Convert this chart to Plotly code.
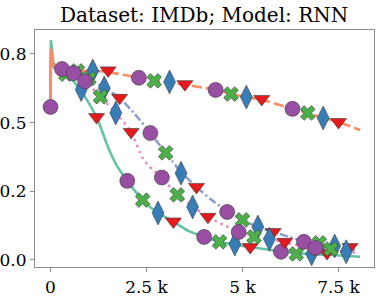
import plotly.graph_objects as go

# ---- data -------------------------------------------------------------
x_ticks = [0, 2500, 5000, 7500]
x_ticklabels = ["0", "2.5 k", "5 k", "7.5 k"]
y_ticks = [0, 0.25, 0.5, 0.75]
y_ticklabels = ["0.0", "0.2", "0.5", "0.8"]

# solid teal line
teal_x = [0, 10, 80, 400, 800, 1200, 1500, 1700, 2000, 2400, 2800, 3200, 3600, 4000, 4400, 4800, 5200, 6000, 6400, 6800, 7200, 8060]
teal_y = [0.557, 0.80, 0.715, 0.68, 0.615, 0.52, 0.41, 0.35, 0.288, 0.218, 0.171, 0.14, 0.105, 0.084, 0.066, 0.056, 0.047, 0.031, 0.025, 0.021, 0.019, 0.012]
# dashed orange line
orange_x = [0, 10, 80, 300, 700, 1100, 1500, 2300, 2700, 3100, 3500, 4300, 4700, 5100, 5500, 6300, 6700, 7100, 7500, 8060]
orange_y = [0.557, 0.77, 0.705, 0.695, 0.69, 0.688, 0.684, 0.663, 0.652, 0.646, 0.638, 0.619, 0.605, 0.593, 0.583, 0.55, 0.535, 0.517, 0.502, 0.473]
# dash-dot blue line
blue_x = [0, 10, 80, 600, 1000, 1400, 1800, 2200, 2600, 3000, 3400, 3800, 4200, 4600, 5000, 5400, 5800, 6200, 6600, 7000, 7400, 7800, 8000]
blue_y = [0.557, 0.75, 0.70, 0.68, 0.66, 0.626, 0.59, 0.53, 0.462, 0.39, 0.32, 0.266, 0.218, 0.178, 0.146, 0.12, 0.102, 0.085, 0.068, 0.058, 0.049, 0.04, 0.035]
# dotted pink line
pink_x = [0, 10, 80, 500, 900, 1300, 1700, 2100, 2400, 2650, 2900, 3300, 3700, 4100, 4500, 4900, 5300, 5700, 6100, 6500, 6900, 7300, 7700, 8000]
pink_y = [0.557, 0.75, 0.70, 0.68, 0.65, 0.594, 0.535, 0.466, 0.37, 0.33, 0.30, 0.237, 0.195, 0.157, 0.128, 0.102, 0.086, 0.076, 0.064, 0.052, 0.044, 0.037, 0.03, 0.025]

# markers: (x, y) per line per marker kind
teal_circle_x = [0, 2000, 4000, 6000];      teal_circle_y = [0.557, 0.288, 0.084, 0.030]
teal_cross_x = [400, 2400, 4400, 6400];     teal_cross_y = [0.676, 0.218, 0.066, 0.022]
teal_diam_x = [800, 2800, 4800, 6800];      teal_diam_y = [0.62, 0.171, 0.058, 0.022]
teal_tri_x = [1200, 3200, 5200, 7200];      teal_tri_y = [0.52, 0.14, 0.047, 0.025]

orange_circle_x = [300, 2300, 4300, 6300];  orange_circle_y = [0.695, 0.663, 0.619, 0.55]
orange_cross_x = [700, 2700, 4700, 6700];   orange_cross_y = [0.688, 0.652, 0.604, 0.535]
orange_diam_x = [1100, 3100, 5100, 7100];   orange_diam_y = [0.688, 0.648, 0.593, 0.517]
orange_tri_x = [1500, 3500, 5500, 7500];    orange_tri_y = [0.69, 0.64, 0.586, 0.502]

blue_circle_x = [600, 2600, 4600, 6600];    blue_circle_y = [0.68, 0.462, 0.175, 0.066]
blue_cross_x = [1000, 3000, 5000, 7000];    blue_cross_y = [0.66, 0.39, 0.146, 0.062]
blue_diam_x = [1400, 3400, 5400, 7400];     blue_diam_y = [0.626, 0.316, 0.12, 0.051]
blue_tri_x = [1800, 3800, 5800, 7800];      blue_tri_y = [0.59, 0.266, 0.102, 0.047]

pink_circle_x = [900, 2900, 4900, 6900];    pink_circle_y = [0.65, 0.30, 0.102, 0.044]
pink_cross_x = [1300, 3300, 5300, 7300];    pink_cross_y = [0.594, 0.237, 0.084, 0.04]
pink_diam_x = [1700, 3700, 5700, 7700];     pink_diam_y = [0.535, 0.193, 0.076, 0.03]
pink_tri_x = [2100, 4100, 6100];            pink_tri_y = [0.466, 0.157, 0.066]

# ---- figure -----------------------------------------------------------
fig = go.Figure()

lines = [
    (pink_x, pink_y, "#e78ac3", "2.5px,4px"),
    (blue_x, blue_y, "#8da0cb", "8px,3px,2px,3px"),
    (teal_x, teal_y, "#66c2a5", "solid"),
    (orange_x, orange_y, "#fc8d62", "10px,4px"),
]
SPIKE = 3  # first points (initial jump) drawn straight
for lx, ly, col, dash in lines:
    fig.add_trace(go.Scatter(x=lx[:SPIKE], y=ly[:SPIKE], mode="lines",
                             line=dict(color=col, width=2.6, shape="linear"),
                             hoverinfo="skip"))
    fig.add_trace(go.Scatter(x=lx[SPIKE - 1:], y=ly[SPIKE - 1:], mode="lines",
                             line=dict(color=col, width=2.6, dash=dash, shape="spline", smoothing=0.6),
                             hoverinfo="skip"))

kinds = [
    ("circle", "#984ea3", 15),
    ("x", "#4daf4a", 13),
    ("diamond-tall", "#377eb8", 17),
    ("triangle-down", "#e41a1c", 14),
]
marker_sets = [
    [(teal_circle_x, teal_circle_y), (teal_cross_x, teal_cross_y), (teal_diam_x, teal_diam_y), (teal_tri_x, teal_tri_y)],
    [(orange_circle_x, orange_circle_y), (orange_cross_x, orange_cross_y), (orange_diam_x, orange_diam_y), (orange_tri_x, orange_tri_y)],
    [(blue_circle_x, blue_circle_y), (blue_cross_x, blue_cross_y), (blue_diam_x, blue_diam_y), (blue_tri_x, blue_tri_y)],
    [(pink_circle_x, pink_circle_y), (pink_cross_x, pink_cross_y), (pink_diam_x, pink_diam_y), (pink_tri_x, pink_tri_y)],
]
for mset in marker_sets:
    for (mx, my), (sym, col, size) in zip(mset, kinds):
        fig.add_trace(go.Scatter(x=mx, y=my, mode="markers",
                                 marker=dict(symbol=sym, color=col, size=size,
                                             line=dict(color="#3a3a3a", width=0.6)),
                                 hoverinfo="skip"))

serif = "DejaVu Serif"
axis_common = dict(showgrid=False, zeroline=False, showline=True, linecolor="#8c8c8c",
                   linewidth=1.2, mirror=True, ticks="outside", ticklen=4, automargin=False,
                   tickcolor="#8c8c8c", tickfont=dict(family=serif, size=17, color="black"))
fig.update_layout(
    width=383, height=304,
    margin=dict(l=35, r=9, t=30, b=37),
    paper_bgcolor="white", plot_bgcolor="white",
    showlegend=False,
    title=dict(text="Dataset: IMDb; Model: RNN", x=0.533, xanchor="center", y=0.95, yanchor="middle",
               font=dict(family=serif, size=20, color="black")),
    xaxis=dict(range=[-404, 8424], tickvals=x_ticks, ticktext=x_ticklabels, **axis_common),
    yaxis=dict(range=[-0.0255, 0.837], tickvals=y_ticks, ticktext=y_ticklabels,
               ticklabelstandoff=0, **axis_common),
)

fig.write_html("out.html", config={"displayModeBar": False},
               post_script="document.body.style.margin='0';document.body.style.overflow='hidden';")
